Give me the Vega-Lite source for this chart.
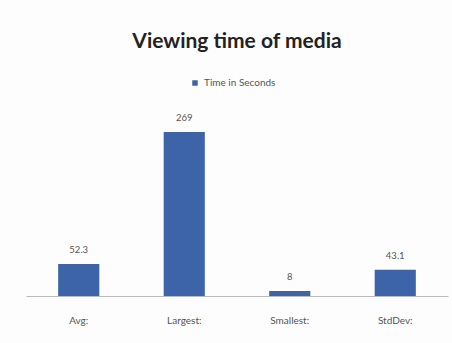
{
  "$schema": "https://vega.github.io/schema/vega-lite/v6.json",
  "width": 422,
  "height": 183,
  "autosize": "none",
  "padding": {"left": 26, "top": 113, "right": 4, "bottom": 47},
  "background": "#fdfdfd",
  "title": {
    "text": "Viewing time of media",
    "font": "Lato",
    "fontSize": 21,
    "fontWeight": "bold",
    "color": "#222222",
    "anchor": "middle",
    "offset": 26
  },
  "data": {
    "values": [
      {"stat": "Avg:", "value": 52.3, "label": "52.3", "series": "Time in Seconds"},
      {"stat": "Largest:", "value": 269, "label": "269", "series": "Time in Seconds"},
      {"stat": "Smallest:", "value": 8, "label": "8", "series": "Time in Seconds"},
      {"stat": "StdDev:", "value": 43.1, "label": "43.1", "series": "Time in Seconds"}
    ]
  },
  "encoding": {
    "x": {
      "field": "stat",
      "type": "nominal",
      "sort": null,
      "scale": {"paddingInner": 0.61, "paddingOuter": 0.305},
      "axis": {
        "title": null,
        "labelAngle": 0,
        "labelFont": "Lato",
        "labelFontSize": 10,
        "labelColor": "#555555",
        "labelPadding": 19,
        "ticks": false,
        "domainColor": "#bbbbbb",
        "domainWidth": 1
      }
    },
    "y": {
      "field": "value",
      "type": "quantitative",
      "scale": {"domain": [0, 300]},
      "axis": null
    }
  },
  "layer": [
    {
      "mark": {"type": "bar", "color": "#3d63a8"},
      "encoding": {
        "color": {
          "field": "series",
          "type": "nominal",
          "scale": {"range": ["#3d63a8"]},
          "legend": {
            "title": null,
            "orient": "none",
            "legendX": 164,
            "legendY": -35,
            "symbolType": "square",
            "symbolSize": 30,
            "labelFont": "Lato",
            "labelFontSize": 10,
            "labelColor": "#555555"
          }
        }
      }
    },
    {
      "mark": {"type": "text", "dy": -14, "font": "Lato", "fontSize": 9.5, "color": "#555555"},
      "encoding": {"text": {"field": "label"}}
    }
  ],
  "config": {"view": {"stroke": null}}
}
